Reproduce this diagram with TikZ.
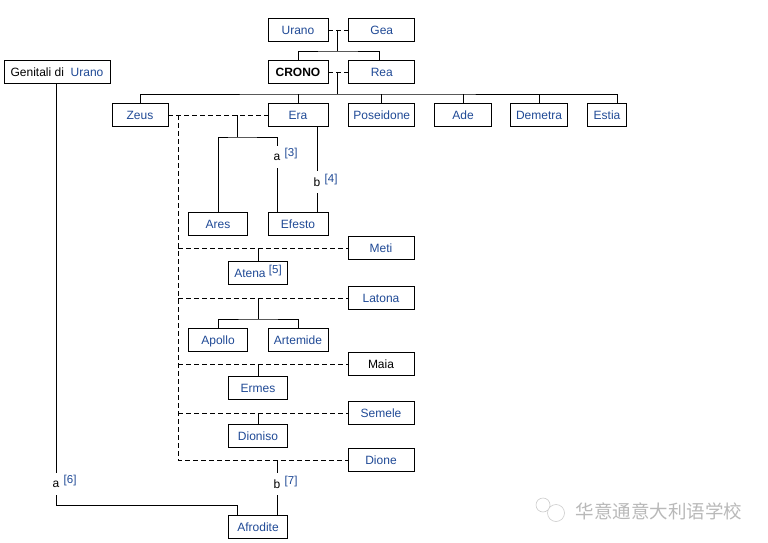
\documentclass[tikz,border=0pt]{standalone}
\usepackage{fontspec}
\setmainfont{Liberation Sans}
\newfontfamily\cjk{Noto Sans CJK SC}
\usetikzlibrary{positioning}
\definecolor{linkblue}{RGB}{32,74,150}
\tikzset{
  kin/.style={draw, line width=0.8pt, minimum height=23pt, minimum width=60pt, inner sep=2pt, text height=8.6pt, text depth=0pt, text=linkblue, font=\fontsize{12}{14}\selectfont},
  kinb/.style={kin, text=black},
  link/.style={line width=0.8pt},
  dashline/.style={line width=0.8pt, dash pattern=on 5pt off 3pt},
  tag/.style={inner sep=0pt, minimum height=22pt, font=\fontsize{12}{14}\selectfont},
  fnote/.style={inner sep=0pt, text=linkblue, font=\fontsize{11.5}{13}\selectfont}
}
\begin{document}
\begin{tikzpicture}[x=1pt, y=-1pt, node distance=20pt]
  \useasboundingbox[fill=white] (0,0) rectangle (768,543);
  % parents
  \node[kin] (urano) at (298,30) {Urano};
  \node[kin, minimum width=66pt, right=of urano] (gea) {Gea};
  \node[kinb, font=\fontsize{12}{14}\selectfont\bfseries] (crono) at (298,72) {CRONO};
  \node[kin, minimum width=66pt, right=of crono] (rea) {Rea};
  \node[kinb, minimum width=106pt] (genitali) at (57,72) {Genitali di\ \ \textcolor{linkblue}{Urano}};
  % children of Crono and Rea
  \node[kin, minimum width=56pt] (zeus) at (140,115) {Zeus};
  \node[kin] (era) at (298,115) {Era};
  \node[kin, minimum width=66pt, right=of era] (poseidone) {Poseidone};
  \node[kin, minimum width=57pt] (ade) at (463,115) {Ade};
  \node[kin, minimum width=57pt] (demetra) at (539,115) {Demetra};
  \node[kin, minimum width=39pt] (estia) at (607,115) {Estia};
  % Zeus and Era
  \node[kin, minimum width=59pt] (ares) at (218,224) {Ares};
  \node[kin] (efesto) at (298,224) {Efesto};
  \node[tag] (ta) at (277,157) {a};
  \node[fnote, anchor=base west] (fa) at ([xshift=4pt,yshift=4pt]ta.base east) {[3]};
  \node[tag] (tb) at (317,182) {b};
  \node[fnote, anchor=base west] (fb) at ([xshift=4pt,yshift=4pt]tb.base east) {[4]};
  % other mothers
  \node[kin, minimum width=66pt] (meti) at (381,248) {Meti};
  \node[kin, minimum width=66pt] (latona) at (381,298) {Latona};
  \node[kinb, minimum width=66pt] (maia) at (381,364) {Maia};
  \node[kin, minimum width=66pt] (semele) at (381,413) {Semele};
  \node[kin, minimum width=66pt] (dione) at (381,460) {Dione};
  % their children
  \node[kin, minimum width=59pt] (atena) at (258,273) {Atena \raisebox{4pt}{\fontsize{11.5}{13}\selectfont[5]}};
  \node[kin, minimum width=59pt] (apollo) at (218,340) {Apollo};
  \node[kin] (artemide) at (298,340) {Artemide};
  \node[kin, minimum width=59pt] (ermes) at (258,388) {Ermes};
  \node[kin, minimum width=59pt] (dioniso) at (258,436) {Dioniso};
  \node[kin, minimum width=59pt] (afrodite) at (258,527) {Afrodite};
  \node[tag] (t6) at (56,484) {a};
  \node[fnote, anchor=base west] (f6) at ([xshift=4pt,yshift=4pt]t6.base east) {[6]};
  \node[tag] (t7) at (277,484) {b};
  \node[fnote, anchor=base west] (f7) at ([xshift=4pt,yshift=4pt]t7.base east) {[7]};
  % watermark
  \node[text=gray!55, font=\cjk\fontsize{18.5}{19}\selectfont] (wm) at (659,511) {华意通意大利语学校};
  \draw[gray!40, line width=0.6pt] (543,505) circle (7) (556,513) circle (8.5);

  \coordinate (c1) at (337,30);
  \coordinate (j1) at (337,51);
  \coordinate (c2) at (337,72);
  \coordinate (j2) at (337,94);
  \coordinate (zd) at (178,115);
  \coordinate (k1) at (237,115);
  \coordinate (k2) at (237,137);
  \coordinate (l2) at (258,319);
  \coordinate (g1) at (56,505);

  \draw[dashline] (urano) -- (gea);
  \draw[link] (c1) -- (j1);
  \draw[link] (crono.north) |- (j1) -| ([xshift=-2pt]rea.north);
  \draw[dashline] (crono) -- (rea);
  \draw[link] (c2) -- (j2);
  \draw[link] (zeus.north) |- (j2) -| ([xshift=10pt]estia.north);
  \foreach \n in {era,poseidone,ade,demetra}
    \draw[link] (\n.north) -- (\n.north |- j2);
  \draw[dashline] (zeus) -- (era);
  \draw[dashline] (zd) |- (dione.west);
  \foreach \n in {meti,latona,maia,semele}
    \draw[dashline] (zd |- \n.west) -- (\n.west);
  \draw[link] (k1) -- (k2);
  \draw[link] (ares.north) |- (k2) -| (ta.north);
  \draw[link] (ta.south) -- (ta.south |- efesto.north);
  \draw[link] ([xshift=19pt]era.south) -- (tb.north);
  \draw[link] (tb.south) -- (tb.south |- efesto.north);
  \draw[link] (atena.north) -- (atena.north |- meti.west);
  \draw[link] (l2 |- latona.west) -- (l2);
  \draw[link] (apollo.north) |- (l2) -| (artemide.north);
  \draw[link] (ermes.north) -- (ermes.north |- maia.west);
  \draw[link] (dioniso.north) -- (dioniso.north |- semele.west);
  \draw[link] (genitali.south -| t6) -- (t6.north);
  \draw[link] (t6.south) -- (g1) -| ([xshift=-21pt]afrodite.north);
  \draw[link] (t7 |- dione.west) -- (t7.north);
  \draw[link] (t7.south) -- (t7.south |- afrodite.north);
\end{tikzpicture}
\end{document}
